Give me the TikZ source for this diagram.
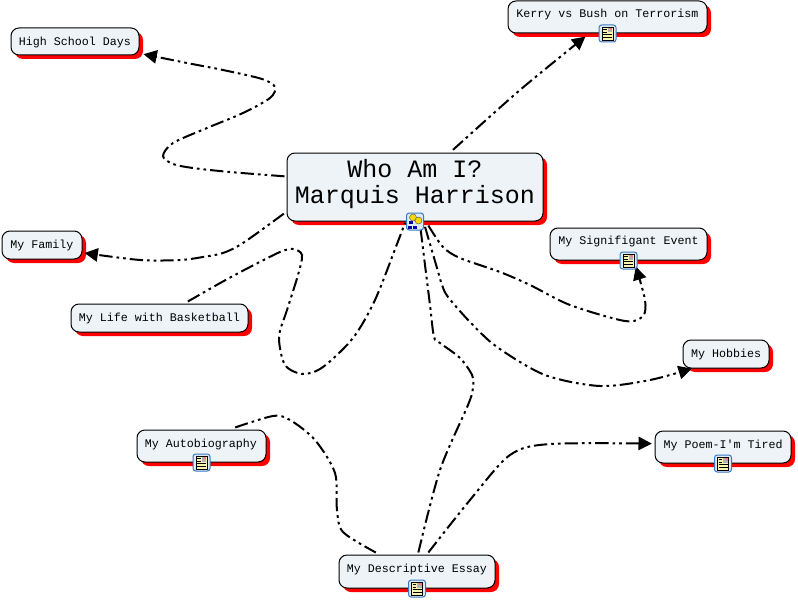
\documentclass[tikz,border=0pt]{standalone}
\usepackage{fontspec}
\setmonofont{Liberation Mono}
\usetikzlibrary{arrows.meta,shadows}
\definecolor{boxfill}{HTML}{EDF3F6}
\definecolor{iconblue}{HTML}{3A78C2}
\definecolor{iconframe}{HTML}{DCE9F7}
\definecolor{pagecol}{HTML}{FBF3B0}
\tikzset{
  topic/.style={draw=black,line width=0.75pt,fill=boxfill,rounded corners=6pt,inner sep=0pt,
    general shadow={fill=red,draw=none,shadow xshift=3pt,shadow yshift=-3pt}},
  label/.style={inner sep=0pt,font=\ttfamily\fontsize{8.75}{10}\selectfont},
  titlelabel/.style={inner sep=0pt,align=center,font=\ttfamily\fontsize{18.75}{21}\selectfont},
  link/.style={line width=1.5pt,line cap=butt,dash pattern=on 10pt off 3pt on 2pt off 3pt on 2pt off 3pt},
  arrowed/.style={link,-{Triangle[length=10pt,width=10pt,fill=black]}},
  docicon/.pic={
    \draw[iconblue,fill=iconframe,line width=0.75pt,rounded corners=2pt] (-8.5,-8.5) rectangle (8.5,8.5);
    \draw[black,fill=pagecol,line width=0.6pt] (-5.5,-6.5) rectangle (5.5,6.5);
    \fill[gray!60] (0,-5.5) rectangle (4.5,-1);
    \fill[red!55] (2.2,-5.5) rectangle (4.5,-3.3);
    \draw[black,line width=0.6pt] (-4.5,-4) -- (-1,-4) (-4.5,-1.5) -- (-1,-1.5) (-4.5,1) -- (4.5,1) (-4.5,3.5) -- (4.5,3.5);
  },
  mapicon/.pic={
    \draw[iconblue,fill=iconframe,line width=0.75pt,rounded corners=2pt] (-8.5,-8.5) rectangle (8.5,8.5);
    \draw[black!60,fill=yellow!75!orange,line width=0.4pt] (-2,-4) circle (3.5);
    \draw[black!60,fill=yellow!75!orange,line width=0.4pt] (3.5,-1) circle (3.5);
    \fill[blue!65!black] (-6.5,-1) rectangle (-2.5,2.5);
    \fill[blue!65!black] (-7,4) rectangle (-3.5,7);
    \fill[blue!65!black] (-2,4) rectangle (1.5,7);
  }
}
\begin{document}
\begin{tikzpicture}[x=0.75pt,y=-0.75pt]
\useasboundingbox (0,0) rectangle (798,599);
\fill[white] (0,0) rectangle (798,599);

% topics
\node[topic,minimum width=192pt,minimum height=51pt] (root) at (415,187) {};
\node[titlelabel] (roottext) at (415,184) {Who Am I?\\[-1pt]Marquis Harrison};
\node[topic,minimum width=96pt,minimum height=20.25pt] (school) at (75,41.5) {};
\node[topic,minimum width=149.25pt,minimum height=24pt] (kerry) at (607.5,17) {};
\node[topic,minimum width=60pt,minimum height=21pt] (family) at (42,245) {};
\node[topic,minimum width=132.75pt,minimum height=21pt] (life) at (159.5,318) {};
\node[topic,minimum width=117.75pt,minimum height=24pt] (event) at (628.5,244) {};
\node[topic,minimum width=64.5pt,minimum height=21pt] (hobbies) at (726,354) {};
\node[topic,minimum width=102pt,minimum height=24pt] (poem) at (723,447) {};
\node[topic,minimum width=96.75pt,minimum height=24pt] (auto) at (201.5,446) {};
\node[topic,minimum width=117pt,minimum height=24.75pt] (essay) at (417,571.5) {};
\node[label] (schooltext) at (75,42) {High School Days};
\node[label] (familytext) at (42,245) {My Family};
\node[label] (lifetext) at (159.5,318.5) {My Life with Basketball};
\node[label] (hobbiestext) at (726,354) {My Hobbies};
\node[label] (kerrytext) at (607.5,14.5) {Kerry vs Bush on Terrorism};
\node[label] (eventtext) at (628.5,241.5) {My Signifigant Event};
\node[label] (poemtext) at (723,445.5) {My Poem-I'm Tired};
\node[label] (autotext) at (201,444.5) {My Autobiography};
\node[label] (essaytext) at (417,569.5) {My Descriptive Essay};

% connector ends
\coordinate (rootA) at ([xshift=-1.5pt,yshift=8pt]root.west);
\coordinate (rootB) at ([xshift=-2pt,yshift=-20pt]root.west);
\coordinate (rootC) at ([xshift=28.5pt,yshift=2pt]root.north);
\coordinate (rootD) at ([xshift=-7.5pt,yshift=-1pt]root.south);
\coordinate (rootE) at ([xshift=4pt,yshift=-4pt]root.south);
\coordinate (rootF) at ([xshift=7.5pt,yshift=-4pt]root.south);
\coordinate (rootG) at ([xshift=10pt,yshift=-3pt]root.south);
\coordinate (schoolEnd) at ([xshift=3pt,yshift=1pt]school.south east);
\coordinate (kerryEnd) at ([xshift=-16.5pt,yshift=-2.25pt]kerry.south);
\coordinate (familyEnd) at ([xshift=1.5pt,yshift=-6pt]family.east);
\coordinate (lifeStart) at ([xshift=88pt,yshift=1.5pt]life.north west);
\coordinate (eventEnd) at ([xshift=5.5pt,yshift=-4.5pt]event.south);
\coordinate (hobbiesEnd) at ([xshift=7pt,yshift=0pt]hobbies.south west);
\coordinate (poemEnd) at ([xshift=-2pt,yshift=2.5pt]poem.west);
\coordinate (autoStart) at ([xshift=74pt,yshift=1.5pt]auto.north west);
\coordinate (essayA) at ([xshift=28pt,yshift=1.5pt]essay.north west);
\coordinate (essayB) at ([xshift=1pt,yshift=1.5pt]essay.north);
\coordinate (essayC) at ([xshift=8.5pt,yshift=1.5pt]essay.north);

% connectors
\draw[arrowed] plot[smooth,tension=0.5] coordinates {(rootA) (230,172) (193,168) (173,164) (163,156) (173,143) (207,128) (243,113) (270,98) (275,87) (262,79) (223,70) (187,63) (schoolEnd)};
\draw[arrowed] plot[smooth,tension=0.5] coordinates {(rootC) (520,90) (kerryEnd)};
\draw[arrowed] plot[smooth,tension=0.5] coordinates {(rootB) (243,243) (223,253) (203,257) (180,260) (140,260) (familyEnd)};
\draw[link] plot[smooth,tension=0.5] coordinates {(lifeStart) (222,282) (250,267) (280,252) (293,249) (302,255) (298,275) (287,310) (279,337) (285,365) (303,374) (323,367) (353,338) (375,300) (397,244) (rootD)};
\draw[arrowed] plot[smooth,tension=0.5] coordinates {(rootG) (443,247) (460,258) (500,272) (530,285) (570,305) (625,321) (643,316) (645,300) (eventEnd)};
\draw[arrowed] plot[smooth,tension=0.5] coordinates {(rootF) (437,268) (442,285) (448,297) (470,322) (497,347) (545,375) (600,386) (650,380) (hobbiesEnd)};
\draw[link] plot[smooth,tension=0.5] coordinates {(essayB) (440,470) (468,405) (473,388) (472,375) (460,358) (440,343) (434,337) (430,305) (425,265) (rootE)};
\draw[link] plot[smooth,tension=0.5] coordinates {(autoStart) (273,416) (290,420) (315,440) (335,473) (337,510) (343,532) (essayA)};
\draw[arrowed] plot[smooth,tension=0.5] coordinates {(essayC) (470,500) (510,455) (550,444) (poemEnd)};

% icons
\pic at (root.south) {mapicon};
\pic at (kerry.south) {docicon};
\pic at (event.south) {docicon};
\pic at (poem.south) {docicon};
\pic at (auto.south) {docicon};
\pic at (essay.south) {docicon};
\end{tikzpicture}
\end{document}
